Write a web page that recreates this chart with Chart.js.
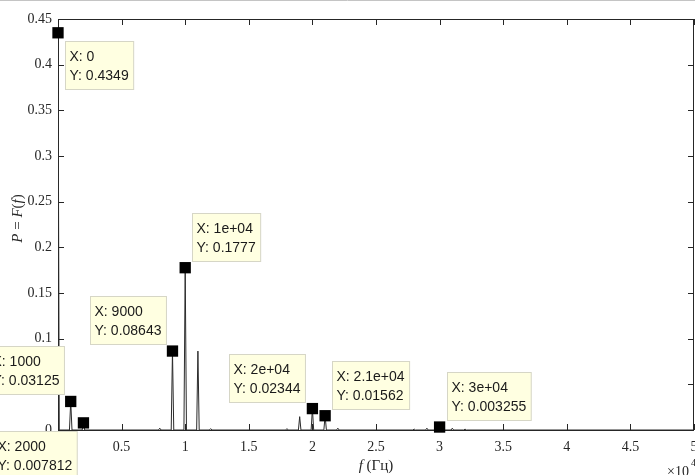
<!DOCTYPE html>
<html>
<head>
<meta charset="utf-8">
<script src="https://cdn.jsdelivr.net/npm/chart.js@4.4.1/dist/chart.umd.min.js"></script>
<style>
  html, body { margin: 0; padding: 0; background: #fff; overflow: hidden; }
  #wrap { width: 695px; height: 475px; position: relative; }
</style>
</head>
<body>
<div id="wrap"><canvas id="spectrum"></canvas></div>
<script>
// spectrum samples: frequency (Hz) and power
const specFreq = [
  0, 100,
  900, 1000, 1100,
  1900, 2000, 2100,
  7900, 8000, 8100,
  8900, 9000, 9100,
  9900, 10000, 10100,
  10900, 11000, 11100,
  11900, 12000, 12100,
  17900, 18000, 18100,
  18900, 19000, 19100,
  19900, 20000, 20100,
  20900, 21000, 21100,
  21900, 22000, 22100,
  27900, 28000, 28100,
  28900, 29000, 29100,
  29900, 30000, 30100,
  30900, 31000, 31100,
  31900, 32000, 32100,
  50000
];
const specPower = [
  0.4349, 0,
  0, 0.03125, 0,
  0, 0.007812, 0,
  0, 0.002, 0,
  0, 0.08643, 0,
  0, 0.1777, 0,
  0, 0.0864, 0,
  0, 0.0015, 0,
  0, 0.0015, 0,
  0, 0.0146, 0,
  0, 0.02344, 0,
  0, 0.01562, 0,
  0, 0.002, 0,
  0, 0.001, 0,
  0, 0.002, 0,
  0, 0.003255, 0,
  0, 0.002, 0,
  0, 0.001, 0,
  0
];

// data tips
const tipFreq = [0, 1000, 2000, 9000, 10000, 20000, 21000, 30000];
const tipPower = [0.4349, 0.03125, 0.007812, 0.08643, 0.1777, 0.02344, 0.01562, 0.003255];
const tipXText = ['0', '1000', '2000', '9000', '1e+04', '2e+04', '2.1e+04', '3e+04'];
const tipYText = ['0.4349', '0.03125', '0.007812', '0.08643', '0.1777', '0.02344', '0.01562', '0.003255'];
// which corner of the marker the tip box sits at
const tipSide = ['br', 'tl', 'bl', 'tl', 'tr', 'tl', 'tr', 'tr'];

const axisColor = '#262626';
const serif = '"Liberation Serif", "Times New Roman", serif';
const sans = '"Liberation Sans", Arial, sans-serif';

const matlabAxes = {
  id: 'matlabAxes',
  beforeDatasetsDraw(chart) {
    const { ctx, chartArea: a, scales } = chart;
    ctx.save();
    ctx.strokeStyle = axisColor;
    ctx.lineWidth = 1;
    ctx.beginPath();
    ctx.rect(Math.round(a.left) + 0.5, Math.round(a.top) + 0.5,
      Math.round(a.right - a.left) - 1, Math.round(a.bottom - a.top));
    scales.x.ticks.forEach(t => {
      const x = Math.round(scales.x.getPixelForValue(t.value)) + 0.5;
      ctx.moveTo(x, a.bottom); ctx.lineTo(x, a.bottom - 6);
      ctx.moveTo(x, a.top); ctx.lineTo(x, a.top + 6);
    });
    scales.y.ticks.forEach(t => {
      const y = Math.round(scales.y.getPixelForValue(t.value)) + 0.5;
      ctx.moveTo(a.left, y); ctx.lineTo(a.left + 6, y);
      ctx.moveTo(a.right, y); ctx.lineTo(a.right - 6, y);
    });
    ctx.stroke();
    ctx.restore();
  },
  afterDraw(chart) {
    const { ctx, chartArea: a } = chart;
    ctx.save();

    // window frame line
    ctx.strokeStyle = '#c4c4c4';
    ctx.beginPath();
    ctx.moveTo(0, 0.5); ctx.lineTo(chart.width, 0.5);
    ctx.stroke();

    // axis titles, mixed italic
    ctx.fillStyle = axisColor;
    ctx.textBaseline = 'middle';
    const drawParts = (parts, cx, cy) => {
      let w = 0;
      parts.forEach(p => { ctx.font = p[1] + ' 15px ' + serif; w += ctx.measureText(p[0]).width; });
      let x = cx - w / 2;
      parts.forEach(p => {
        ctx.font = p[1] + ' 15px ' + serif;
        ctx.fillText(p[0], x, cy);
        x += ctx.measureText(p[0]).width;
      });
    };
    ctx.textAlign = 'left';
    drawParts([['f', 'italic'], [' (Гц)', 'normal']], (a.left + a.right) / 2, 466);
    ctx.save();
    ctx.translate(18, (a.top + a.bottom) / 2 - 6);
    ctx.rotate(-Math.PI / 2);
    drawParts([['P', 'italic'], [' = ', 'normal'], ['F', 'italic'], ['(', 'normal'], ['f', 'italic'], [')', 'normal']], 0, 0);
    ctx.restore();

    // x10^4 exponent label
    ctx.font = '14px ' + serif;
    ctx.fillText('\u00d710', 667, 472);
    ctx.font = '10px ' + serif;
    ctx.fillText('4', 691, 463);

    // data tips
    const meta = chart.getDatasetMeta(1);
    ctx.font = '14px ' + sans;
    meta.data.forEach((pt, i) => {
      const l1 = 'X: ' + tipXText[i];
      const l2 = 'Y: ' + tipYText[i];
      const w = Math.max(ctx.measureText(l1).width, ctx.measureText(l2).width) + 9;
      const h = 48;
      const side = tipSide[i];
      let left = side[1] === 'r' ? pt.x + 7 : pt.x - 7 - w;
      let top = side[0] === 'b' ? pt.y + 8 : pt.y - 7 - h;
      left = Math.round(left) + 0.5;
      top = Math.round(top) + 0.5;
      ctx.fillStyle = '#ffffe1';
      ctx.fillRect(left, top, w, h);
      ctx.strokeStyle = '#d6d6c6';
      ctx.strokeRect(left, top, w, h);
      ctx.fillStyle = '#1a1a1a';
      ctx.textAlign = 'left';
      ctx.fillText(l1, left + 4, top + 16);
      ctx.fillText(l2, left + 4, top + 35);
    });
    ctx.restore();
  }
};

const spectrum = specFreq.map((f, i) => ({ x: f, y: specPower[i] }));
const tips = tipFreq.map((f, i) => ({ x: f, y: tipPower[i] }));

new Chart(document.getElementById('spectrum'), {
  type: 'scatter',
  data: {
    datasets: [{
      data: spectrum,
      showLine: true,
      borderColor: '#2b2b2b',
      borderWidth: 1,
      pointRadius: 0,
      tension: 0,
      order: 2
    }, {
      data: tips,
      pointStyle: 'rect',
      pointRadius: 8,
      backgroundColor: '#000',
      borderColor: '#000',
      borderWidth: 0,
      clip: false,
      order: 1
    }]
  },
  options: {
    responsive: true,
    maintainAspectRatio: false,
    animation: false,
    events: [],
    layout: { autoPadding: false, padding: { top: 19, right: 1, left: 0, bottom: 0 } },
    plugins: {
      legend: { display: false },
      tooltip: { enabled: false }
    },
    scales: {
      x: {
        min: 0,
        max: 50000,
        grid: { display: false, drawTicks: false },
        border: { display: false },
        ticks: {
          stepSize: 5000,
          padding: 9,
          maxRotation: 0,
          autoSkip: false,
          color: axisColor,
          font: { family: serif, size: 14 },
          callback: v => String(v / 10000)
        },
        afterFit: s => { s.height = 45; s.paddingLeft = 0; s.paddingRight = 0; }
      },
      y: {
        min: 0,
        max: 0.45,
        grid: { display: false, drawTicks: false },
        border: { display: false },
        ticks: {
          stepSize: 0.05,
          padding: 6,
          color: axisColor,
          font: { family: serif, size: 14 },
          callback: v => String(+v.toFixed(2))
        },
        afterFit: s => { s.width = 58; }
      }
    }
  },
  plugins: [matlabAxes]
});
</script>
</body>
</html>
